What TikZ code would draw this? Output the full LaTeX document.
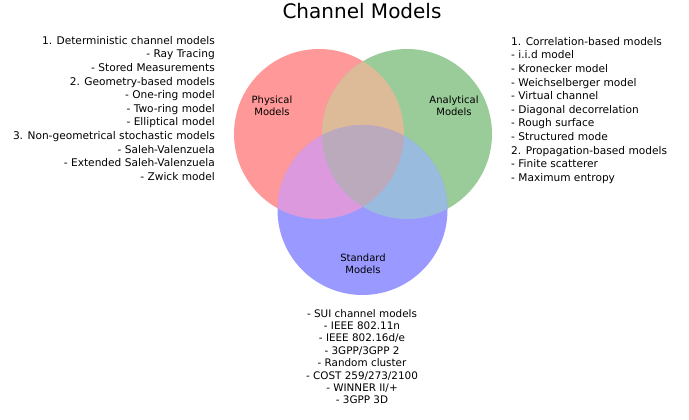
\documentclass[tikz,border=0pt]{standalone}
\usepackage{fontspec}
\setmainfont{DejaVu Sans}

\definecolor{fisico}{HTML}{FF9999}
\definecolor{analitico}{HTML}{99CC99}
\definecolor{estandar}{HTML}{9999FF}
\definecolor{fisana}{HTML}{DDBB99}
\definecolor{fisest}{HTML}{DD99DD}
\definecolor{anaest}{HTML}{99BBDD}
\definecolor{todos}{HTML}{BBAABB}

\tikzstyle{titulo}= [inner sep=0pt,font=\fontsize{20}{22}\selectfont]
\tikzstyle{etiqueta}= [align=center,inner sep=0pt,font=\fontsize{10}{12}\selectfont]
\tikzstyle{lista}= [inner sep=0pt,font=\fontsize{10.6}{13.6}\selectfont]
\tikzstyle{listab}= [inner sep=0pt,align=center,font=\fontsize{10.4}{12.4}\selectfont]

\begin{document}
\begin{tikzpicture}[x=1pt,y=-1pt]

		\useasboundingbox (0,0) rectangle (689,420);

		\coordinate (cf) at (319,134);
		\coordinate (ca) at (407,134);
		\coordinate (ce) at (362.5,210);

		\fill[fisico] (cf) circle (85pt);
		\fill[analitico] (ca) circle (85pt);
		\fill[estandar] (ce) circle (85pt);

		\begin{scope}
			\clip (cf) circle (85pt);
			\fill[fisana] (ca) circle (85pt);
			\fill[fisest] (ce) circle (85pt);
			\clip (ca) circle (85pt);
			\fill[todos] (ce) circle (85pt);
		\end{scope}
		\begin{scope}
			\clip (ca) circle (85pt);
			\clip (ce) circle (85pt);
			\path[fill=anaest,even odd rule] (ca) circle (85pt) (cf) circle (85pt);
		\end{scope}

		\node (t) at (362,19) [titulo,anchor=base] {Channel Models};

		\node (f) at (272,106) [etiqueta] {Physical\\Models};
		\node (a) at (454,106) [etiqueta] {Analytical\\Models};
		\node (e) at (363,264) [etiqueta] {Standard\\Models};

		\node (lf) at (215,36) [lista,align=right,anchor=north east] {1. Deterministic channel models\\- Ray Tracing\\- Stored Measurements\\2. Geometry-based models\\- One-ring model\\- Two-ring model\\- Elliptical model\\3. Non-geometrical stochastic models\\- Saleh-Valenzuela\\- Extended Saleh-Valenzuela\\- Zwick model};

		\node (la) at (511,37) [lista,align=left,anchor=north west] {1. Correlation-based models\\- i.i.d model\\- Kronecker model\\- Weichselberger model\\- Virtual channel\\- Diagonal decorrelation\\- Rough surface\\- Structured mode\\2. Propagation-based models\\- Finite scatterer\\- Maximum entropy};

		\node (le) at (362,309) [listab,anchor=north] {- SUI channel models\\- IEEE 802.11n\\- IEEE 802.16d/e\\- 3GPP/3GPP 2\\- Random cluster\\- COST 259/273/2100\\- WINNER II/+\\- 3GPP 3D};

	\end{tikzpicture}
\end{document}
